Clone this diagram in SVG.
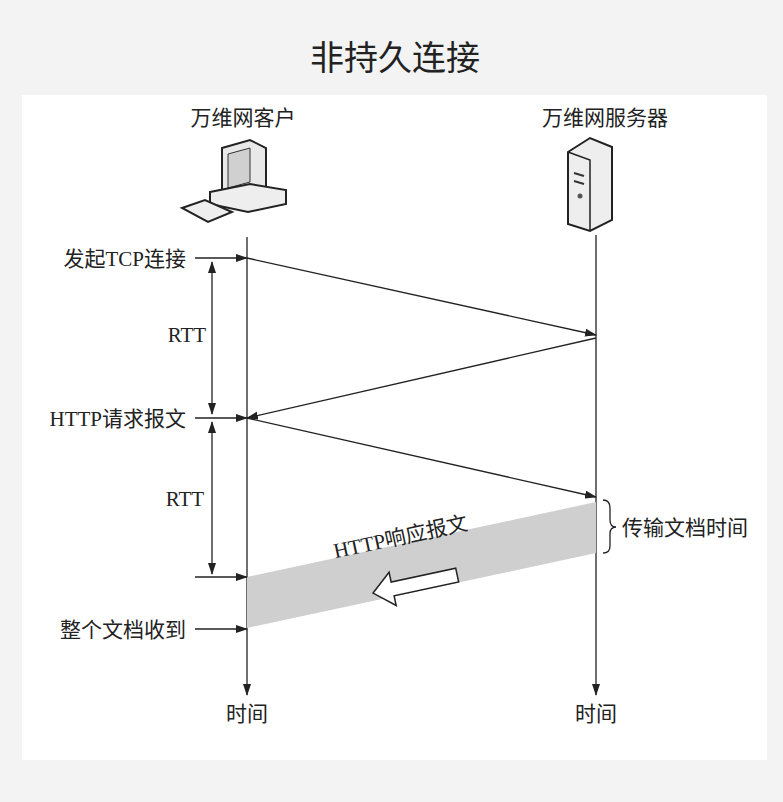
<svg xmlns="http://www.w3.org/2000/svg" width="783" height="802" viewBox="0 0 783 802">
<style>
text{font-family:"Liberation Serif","Noto Sans CJK SC",serif;fill:#222}
.l{stroke:#222;stroke-width:1.3;fill:none}
.lab{font-size:21px}
</style>
<defs>
<marker id="a" markerWidth="12" markerHeight="8" refX="11" refY="4" orient="auto-start-reverse" markerUnits="userSpaceOnUse"><path d="M0,0 L12,4 L0,8 Z" fill="#222"/></marker>
</defs>
<rect width="783" height="802" fill="#f3f3f3"/>
<rect x="22" y="95" width="745" height="665" fill="#fff"/>
<text x="395" y="70" text-anchor="middle" font-size="34">非持久连接</text>
<g id="client">
<text x="243" y="125" text-anchor="middle" class="lab">万维网客户</text>
<path d="M222,148 L250,140 L266,148 L266,190 L238,197 L222,190Z" fill="#e8e8e8" stroke="#222" stroke-width="2"/>
<path d="M228,154 L250,148 L250,182 L228,188Z" fill="#d0d0d0" stroke="#333"/>
<path d="M210,192 L250,184 L286,190 L286,204 L248,212 L210,204Z" fill="#eee" stroke="#222" stroke-width="2"/>
<path d="M182,208 L205,200 L232,212 L208,222Z" fill="#eee" stroke="#222" stroke-width="2"/>
</g>
<g id="server">
<text x="605" y="125" text-anchor="middle" class="lab">万维网服务器</text>
<path d="M568,152 L590,138 L612,147 L612,220 L590,231 L568,224Z" fill="#eee" stroke="#222" stroke-width="2"/>
<path d="M568,152 L590,160 L590,231" fill="none" stroke="#222" stroke-width="1.5"/>
<path d="M574,173 L584,176 M574,181 L584,184" stroke="#333" stroke-width="2"/>
<circle cx="580" cy="196" r="2.5" fill="#555"/>
</g>
<g id="connectors">
<line class="l" x1="247" y1="237" x2="247" y2="695" marker-end="url(#a)"/>
<line class="l" x1="596" y1="235" x2="596" y2="695" marker-end="url(#a)"/>
<polygon points="247,577 596,502 596,553 247,628" fill="#cfcfcf"/>
<line class="l" x1="247" y1="258" x2="596" y2="335" marker-end="url(#a)"/>
<line class="l" x1="596" y1="338" x2="247" y2="418" marker-end="url(#a)"/>
<line class="l" x1="247" y1="418" x2="596" y2="497" marker-end="url(#a)"/>
<line class="l" x1="195" y1="258" x2="247" y2="258" marker-end="url(#a)"/>
<line class="l" x1="195" y1="418" x2="247" y2="418" marker-end="url(#a)"/>
<line class="l" x1="195" y1="577" x2="247" y2="577" marker-end="url(#a)"/>
<line class="l" x1="195" y1="629" x2="247" y2="629" marker-end="url(#a)"/>
<line class="l" x1="212" y1="262" x2="212" y2="414" marker-end="url(#a)" marker-start="url(#a)"/>
<line class="l" x1="212" y1="422" x2="212" y2="574" marker-end="url(#a)" marker-start="url(#a)"/>
<path class="l" d="M603,500 Q610,500 610,508 L610,520 Q610,527 616,527 Q610,527 610,534 L610,546 Q610,553 603,553"/>
<g transform="rotate(-12.1 420 583)"><path d="M372,583 L392,566 L392,576 L458,576 L458,590 L392,590 L392,600Z" fill="#fff" stroke="#222" stroke-width="1.5"/></g>
</g>
<g id="labels">
<text x="186" y="266" text-anchor="end" class="lab">发起TCP连接</text>
<text x="187" y="342" text-anchor="middle" class="lab">RTT</text>
<text x="186" y="426" text-anchor="end" class="lab">HTTP请求报文</text>
<text x="185" y="506" text-anchor="middle" class="lab">RTT</text>
<text x="186" y="637" text-anchor="end" class="lab">整个文档收到</text>
<text x="622" y="535" class="lab">传输文档时间</text>
<text transform="translate(402,544) rotate(-12.1)" text-anchor="middle" class="lab">HTTP响应报文</text>
<text x="247" y="721" text-anchor="middle" class="lab">时间</text>
<text x="596" y="721" text-anchor="middle" class="lab">时间</text>
</g>
</svg>
